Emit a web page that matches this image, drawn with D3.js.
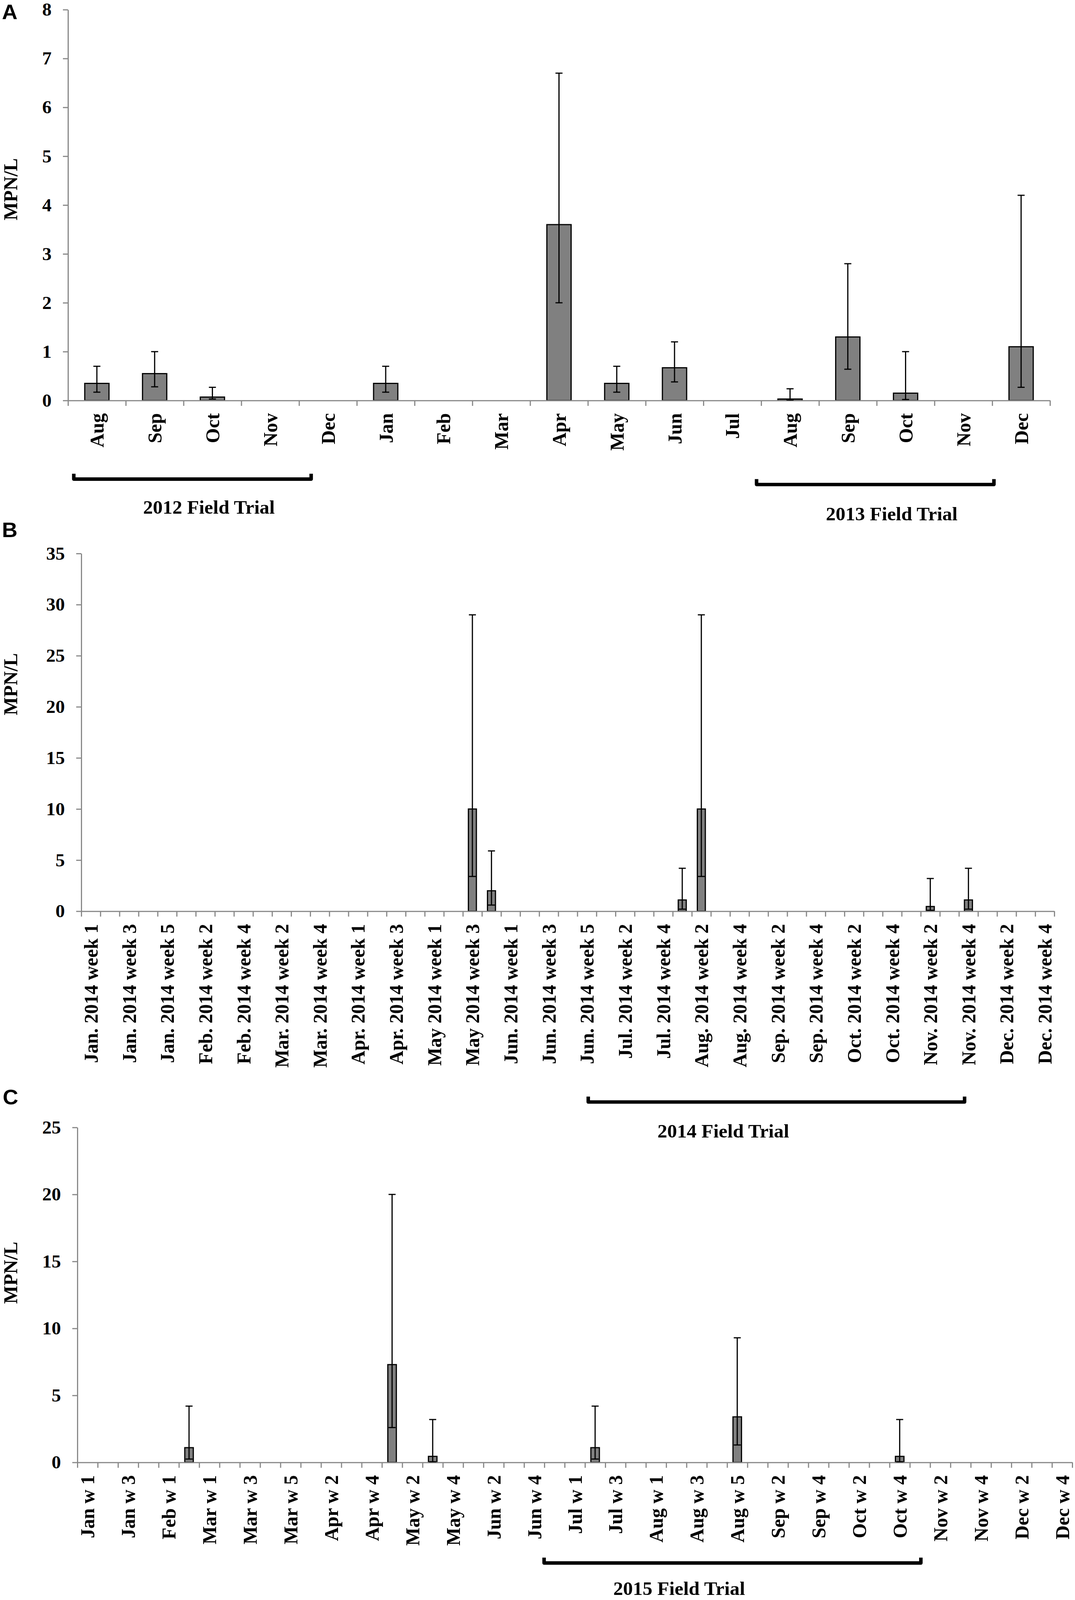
<!DOCTYPE html>
<html>
<head>
<meta charset="utf-8">
<title>MPN/L by month and week</title>
<script src="https://cdn.jsdelivr.net/npm/d3@7"></script>
<style>
  html, body { margin: 0; padding: 0; background: #fff; overflow: hidden; }
  svg { background: #fff; display: block; }
  text { font-family: "Liberation Serif", "Times New Roman", serif; font-weight: bold; fill: #000; }
  .letter { font-family: "Liberation Sans", Arial, sans-serif; font-size: 55px; }
  .ytick text { font-size: 48px; }
  .xlab text { font-size: 50px; }
  .title, .trial { font-size: 50px; }
  .axis path, .axis line { stroke: #898989; stroke-width: 3; }
  rect.bar { fill: #808080; stroke: #000; stroke-width: 3; }
  .err line { stroke: #000; stroke-width: 3; }
  .bracket { fill: none; stroke: #000; stroke-width: 9; stroke-linejoin: round; }
</style>
</head>
<body>
<svg width="2751" height="4151" viewBox="0 0 2751 4151" preserveAspectRatio="none"></svg>
<script>
// ---- panel A: monthly means, Aug 2012 - Dec 2013
var monthsA = ['Aug', 'Sep', 'Oct', 'Nov', 'Dec', 'Jan', 'Feb', 'Mar', 'Apr',
               'May', 'Jun', 'Jul', 'Aug', 'Sep', 'Oct', 'Nov', 'Dec'];
var valuesA = [0.35, 0.55, 0.07, 0, 0, 0.35, 0, 0, 3.6, 0.35, 0.67, 0, 0.03, 1.3, 0.15, 0, 1.1];
var lowA    = [0.17, 0.28, 0.03, 0, 0, 0.17, 0, 0, 2.0, 0.17, 0.38, 0, 0.01, 0.64, 0.02, 0, 0.27];
var highA   = [0.7,  1.0,  0.27, 0, 0, 0.7,  0, 0, 6.7, 0.7,  1.2,  0, 0.24, 2.8,  1.0,  0, 4.2];
var ticksA  = [0, 1, 2, 3, 4, 5, 6, 7, 8];

// ---- panel B: weekly, 2014
var weeksB = [
  'Jan. 2014 week 1', 'Jan. 2014 week 2', 'Jan. 2014 week 3', 'Jan. 2014 week 4', 'Jan. 2014 week 5',
  'Feb. 2014 week 1', 'Feb. 2014 week 2', 'Feb. 2014 week 3', 'Feb. 2014 week 4',
  'Mar. 2014 week 1', 'Mar. 2014 week 2', 'Mar. 2014 week 3', 'Mar. 2014 week 4', 'Mar. 2014 week 5',
  'Apr. 2014 week 1', 'Apr. 2014 week 2', 'Apr. 2014 week 3', 'Apr. 2014 week 4',
  'May 2014 week 1', 'May 2014 week 2', 'May 2014 week 3', 'May 2014 week 4',
  'Jun. 2014 week 1', 'Jun. 2014 week 2', 'Jun. 2014 week 3', 'Jun. 2014 week 4', 'Jun. 2014 week 5',
  'Jul. 2014 week 1', 'Jul. 2014 week 2', 'Jul. 2014 week 3', 'Jul. 2014 week 4',
  'Aug. 2014 week 1', 'Aug. 2014 week 2', 'Aug. 2014 week 3', 'Aug. 2014 week 4',
  'Sep. 2014 week 1', 'Sep. 2014 week 2', 'Sep. 2014 week 3', 'Sep. 2014 week 4',
  'Oct. 2014 week 1', 'Oct. 2014 week 2', 'Oct. 2014 week 3', 'Oct. 2014 week 4',
  'Nov. 2014 week 1', 'Nov. 2014 week 2', 'Nov. 2014 week 3', 'Nov. 2014 week 4',
  'Dec. 2014 week 1', 'Dec. 2014 week 2', 'Dec. 2014 week 3', 'Dec. 2014 week 4'
];
var valuesB = [
  0, 0, 0, 0, 0,   0, 0, 0, 0,   0, 0, 0, 0, 0,   0, 0, 0, 0,
  0, 0, 10, 2,     0, 0, 0, 0, 0,   0, 0, 0, 0,   1.1, 10, 0, 0,
  0, 0, 0, 0,      0, 0, 0, 0,      0, 0.46, 0, 1.1,   0, 0, 0, 0
];
var lowB = [
  0, 0, 0, 0, 0,   0, 0, 0, 0,   0, 0, 0, 0, 0,   0, 0, 0, 0,
  0, 0, 3.4, 0.6,  0, 0, 0, 0, 0,   0, 0, 0, 0,   0.2, 3.4, 0, 0,
  0, 0, 0, 0,      0, 0, 0, 0,      0, 0.09, 0, 0.2,   0, 0, 0, 0
];
var highB = [
  0, 0, 0, 0, 0,   0, 0, 0, 0,   0, 0, 0, 0, 0,   0, 0, 0, 0,
  0, 0, 29, 5.9,   0, 0, 0, 0, 0,   0, 0, 0, 0,   4.2, 29, 0, 0,
  0, 0, 0, 0,      0, 0, 0, 0,      0, 3.2, 0, 4.2,    0, 0, 0, 0
];
var ticksB = [0, 5, 10, 15, 20, 25, 30, 35];

// ---- panel C: weekly, 2015
var weeksC = [
  'Jan w 1', 'Jan w 2', 'Jan w 3', 'Jan w 4',
  'Feb w 1', 'Feb w 2',
  'Mar w 1', 'Mar w 2', 'Mar w 3', 'Mar w 4', 'Mar w 5',
  'Apr w 1', 'Apr w 2', 'Apr w 3', 'Apr w 4',
  'May  w 1', 'May  w 2', 'May  w 3', 'May  w 4',
  'Jun w 1', 'Jun w 2', 'Jun w 3', 'Jun w 4', 'Jun w 5',
  'Jul w 1', 'Jul w 2', 'Jul w 3', 'Jul w 4',
  'Aug w 1', 'Aug w 2', 'Aug w 3', 'Aug w 4', 'Aug w 5',
  'Sep w 1', 'Sep w 2', 'Sep w 3', 'Sep w 4',
  'Oct w 1', 'Oct w 2', 'Oct w 3', 'Oct w 4',
  'Nov w 1', 'Nov w 2', 'Nov w 3', 'Nov w 4',
  'Dec w 1', 'Dec w 2', 'Dec w 3', 'Dec w 4'
];
var valuesC = [
  0, 0, 0, 0,   0, 1.1,   0, 0, 0, 0, 0,   0, 0, 0, 0,   7.3, 0, 0.45, 0,
  0, 0, 0, 0, 0,   0, 1.1, 0, 0,   0, 0, 0, 0, 3.4,   0, 0, 0, 0,
  0, 0, 0, 0.45,   0, 0, 0, 0,   0, 0, 0, 0
];
var lowC = [
  0, 0, 0, 0,   0, 0.25,  0, 0, 0, 0, 0,   0, 0, 0, 0,   2.6, 0, 0.05, 0,
  0, 0, 0, 0, 0,   0, 0.25, 0, 0,  0, 0, 0, 0, 1.3,   0, 0, 0, 0,
  0, 0, 0, 0.05,   0, 0, 0, 0,   0, 0, 0, 0
];
var highC = [
  0, 0, 0, 0,   0, 4.2,   0, 0, 0, 0, 0,   0, 0, 0, 0,   20, 0, 3.2, 0,
  0, 0, 0, 0, 0,   0, 4.2, 0, 0,   0, 0, 0, 0, 9.3,   0, 0, 0, 0,
  0, 0, 0, 3.2,    0, 0, 0, 0,   0, 0, 0, 0
];
var ticksC = [0, 5, 10, 15, 20, 25];

var svg = d3.select('svg');

// if the window is shorter than the drawing, squeeze it to fit
var vw = window.innerWidth, vh = window.innerHeight;
if (vh > 0 && vh < 4151) svg.attr('height', vh);
if (vw > 0 && vw < 2751) svg.attr('width', vw);

function drawPanel(p) {
  var n = p.labels.length;
  var g = svg.append('g');
  var x = d3.scaleBand().domain(d3.range(n)).range([p.left, p.right]);
  var edge = d3.scaleLinear().domain([0, n]).range([p.left, p.right]);
  var y = d3.scaleLinear().domain([0, p.ticks[p.ticks.length - 1]]).range([p.bottom, p.top]);
  var bw = x.bandwidth() * 0.42;
  var cx = function(i) { return x(i) + x.bandwidth() / 2; };
  var shown = d3.range(n).filter(function(i) { return p.values[i] > 0; });

  g.selectAll('rect.bar').data(shown).join('rect')
    .attr('class', 'bar')
    .attr('x', function(i) { return cx(i) - bw / 2; })
    .attr('width', bw)
    .attr('y', function(i) { return y(p.values[i]); })
    .attr('height', function(i) { return y(0) - y(p.values[i]); });

  // y axis
  g.append('g').attr('class', 'axis ytick')
    .attr('transform', 'translate(' + p.left + ',0)')
    .call(d3.axisLeft(y).tickValues(p.ticks).tickSize(13).tickSizeOuter(0).tickPadding(29));

  // x axis: ticks between categories
  g.append('g').attr('class', 'axis')
    .attr('transform', 'translate(0,' + p.bottom + ')')
    .call(d3.axisBottom(edge).tickValues(d3.range(n + 1)).tickSize(14).tickSizeOuter(0).tickFormat(''));

  // category labels, every p.step-th one
  var lab = g.append('g').attr('class', 'xlab')
    .attr('transform', 'translate(0,' + p.bottom + ')')
    .call(d3.axisBottom(x).tickSize(0).tickValues(d3.range(0, n, p.step))
      .tickFormat(function(i) { return p.labels[i]; }));
  lab.select('.domain').remove();
  lab.selectAll('text')
    .attr('transform', 'rotate(-90)')
    .attr('text-anchor', 'end')
    .attr('x', -33).attr('y', 0).attr('dy', '0.35em');

  // error bars
  var err = g.selectAll('g.err').data(shown).join('g').attr('class', 'err');
  err.append('line')
    .attr('x1', cx).attr('x2', cx)
    .attr('y1', function(i) { return y(p.low[i]); })
    .attr('y2', function(i) { return y(p.high[i]); });
  [p.low, p.high].forEach(function(arr) {
    err.append('line')
      .attr('x1', function(i) { return cx(i) - 9; })
      .attr('x2', function(i) { return cx(i) + 9; })
      .attr('y1', function(i) { return y(arr[i]); })
      .attr('y2', function(i) { return y(arr[i]); });
  });

  // titles
  g.append('text').attr('class', 'letter').attr('x', p.letterX).attr('y', p.letterY).text(p.letter);
  g.append('text').attr('class', 'title')
    .attr('transform', 'translate(' + p.titleX + ',' + p.titleY + ') rotate(-90)')
    .attr('text-anchor', 'middle').text('MPN/L');

  // field trial brackets
  p.trials.forEach(function(t) {
    var xa = edge(t.from) + 4.5, xb = edge(t.to) - 4.5;
    g.append('path').attr('class', 'bracket')
      .attr('d', 'M' + xa + ',' + t.top + 'V' + (t.top + 14) + 'H' + xb + 'V' + t.top);
    g.append('text').attr('class', 'trial')
      .attr('x', edge(t.textAt)).attr('y', t.baseline)
      .attr('text-anchor', 'middle').text(t.label);
  });
}

drawPanel({
  labels: monthsA, values: valuesA, low: lowA, high: highA, ticks: ticksA, step: 1,
  left: 174, right: 2687, top: 25, bottom: 1039,
  letter: 'A', letterX: 5, letterY: 50, titleX: 44, titleY: 491,
  trials: [
    { label: '2012 Field Trial', from: 0.07, to: 4.24, top: 1229, textAt: 2.44, baseline: 1333 },
    { label: '2013 Field Trial', from: 11.89, to: 16.06, top: 1243, textAt: 14.26, baseline: 1350 }
  ]
});

drawPanel({
  labels: weeksB, values: valuesB, low: lowB, high: highB, ticks: ticksB, step: 2,
  left: 208, right: 2698, top: 1436, bottom: 2364,
  letter: 'B', letterX: 5, letterY: 1393, titleX: 44, titleY: 1775,
  trials: [
    { label: '2014 Field Trial', from: 26.48, to: 46.39, top: 2845, textAt: 33.65, baseline: 2951 }
  ]
});

drawPanel({
  labels: weeksC, values: valuesC, low: lowC, high: highC, ticks: ticksC, step: 2,
  left: 198, right: 2744, top: 2925, bottom: 3794,
  letter: 'C', letterX: 7, letterY: 2865, titleX: 44, titleY: 3302,
  trials: [
    { label: '2015 Field Trial', from: 22.9, to: 41.63, top: 4041, textAt: 29.64, baseline: 4138 }
  ]
});
</script>
</body>
</html>
